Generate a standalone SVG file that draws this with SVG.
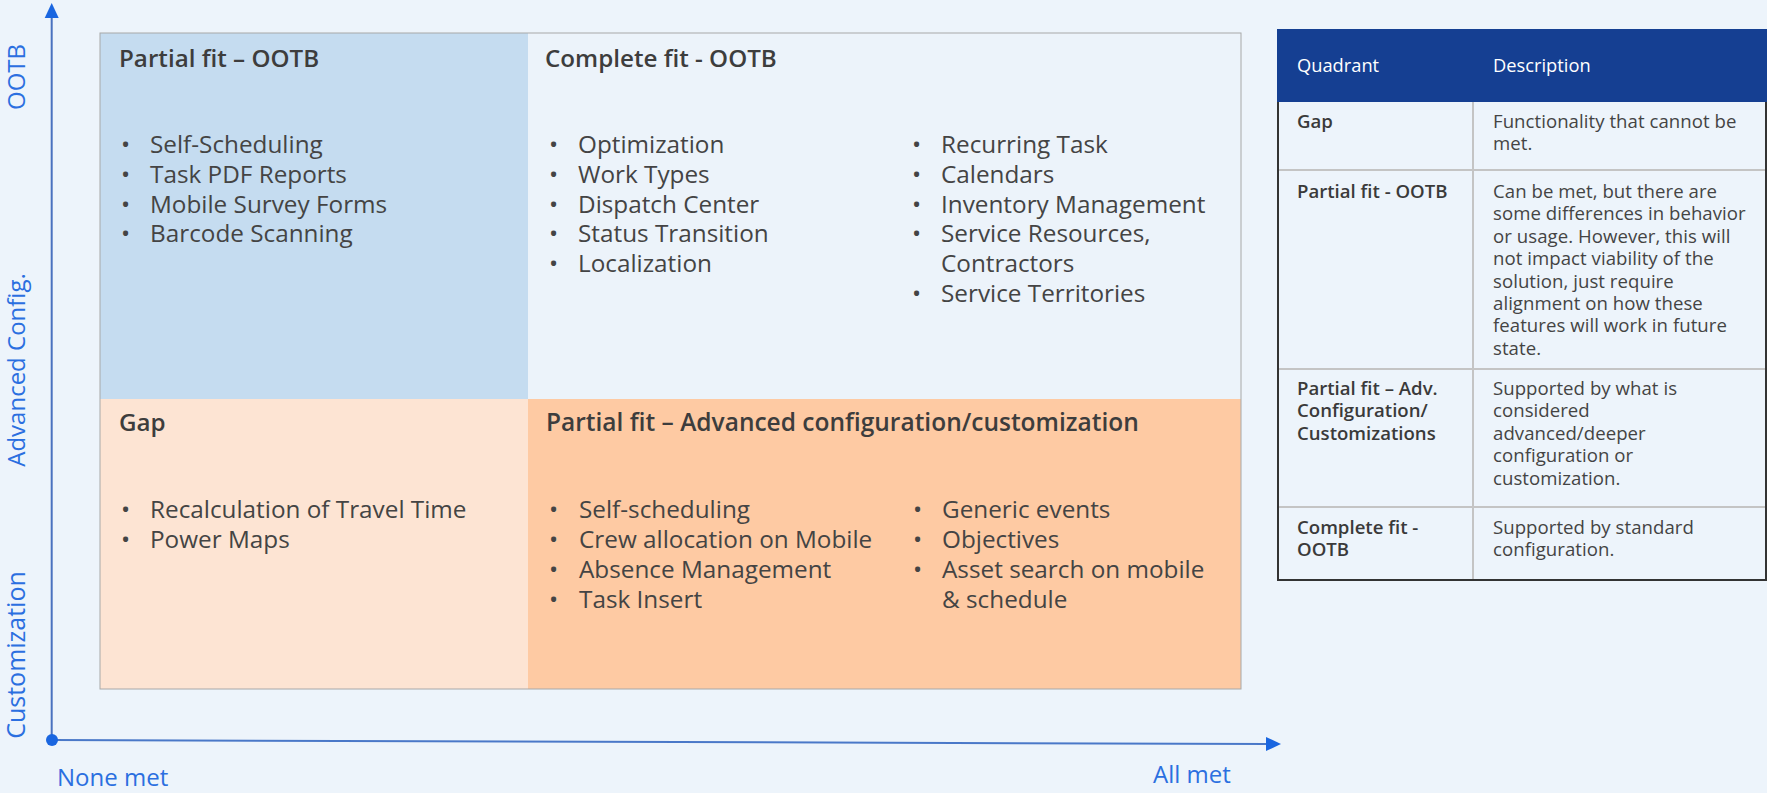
<svg xmlns="http://www.w3.org/2000/svg" width="1767" height="793" viewBox="0 0 1767 793">
<defs>
<style>
.axl{font-family:"Open Sans","Liberation Sans",sans-serif;font-size:24px;fill:#2b6fe0}
.ttl{font-family:"Open Sans","Liberation Sans",sans-serif;font-size:24.2px;font-weight:600;fill:#3d3d3d}
.itm{font-family:"Open Sans","Liberation Sans",sans-serif;font-size:24.3px;fill:#444444}
.th{font-family:"Open Sans","Liberation Sans",sans-serif;font-size:18.3px;fill:#ffffff}
.tb{font-family:"Open Sans","Liberation Sans",sans-serif;font-size:18.6px;font-weight:600;fill:#3a3a3a}
.td{font-family:"Open Sans","Liberation Sans",sans-serif;font-size:18.6px;letter-spacing:0.05px;fill:#444444}
.grid{stroke:#c4c4c4;stroke-width:2;fill:none}
</style>
</defs>
<rect x="0" y="0" width="1767" height="793" fill="#edf4fb"/>

<g id="quadrants">
<g id="q-partial-ootb">
<rect x="100" y="33" width="428" height="366" fill="#c5dcf0"/>
<text class="ttl" x="119" y="67">Partial fit – OOTB</text>
<text class="itm"><tspan x="121" y="153">•</tspan><tspan x="121" y="182.8">•</tspan><tspan x="121" y="212.6">•</tspan><tspan x="121" y="242.4">•</tspan></text>
<text class="itm"><tspan x="150" y="153">Self-Scheduling</tspan><tspan x="150" y="182.8">Task PDF Reports</tspan><tspan x="150" y="212.6">Mobile Survey Forms</tspan><tspan x="150" y="242.4">Barcode Scanning</tspan></text>
</g>
<g id="q-complete-ootb">
<rect x="528" y="33" width="713" height="366" fill="#ecf3fa"/>
<text class="ttl" x="545" y="67">Complete fit - OOTB</text>
<text class="itm"><tspan x="549" y="153">•</tspan><tspan x="549" y="182.8">•</tspan><tspan x="549" y="212.6">•</tspan><tspan x="549" y="242.4">•</tspan><tspan x="549" y="272.2">•</tspan></text>
<text class="itm"><tspan x="578" y="153">Optimization</tspan><tspan x="578" y="182.8">Work Types</tspan><tspan x="578" y="212.6">Dispatch Center</tspan><tspan x="578" y="242.4">Status Transition</tspan><tspan x="578" y="272.2">Localization</tspan></text>
<text class="itm"><tspan x="912" y="153">•</tspan><tspan x="912" y="182.8">•</tspan><tspan x="912" y="212.6">•</tspan><tspan x="912" y="242.4">•</tspan><tspan x="912" y="302">•</tspan></text>
<text class="itm"><tspan x="941" y="153">Recurring Task</tspan><tspan x="941" y="182.8">Calendars</tspan><tspan x="941" y="212.6">Inventory Management</tspan><tspan x="941" y="242.4">Service Resources,</tspan><tspan x="941" y="272.2">Contractors</tspan><tspan x="941" y="302">Service Territories</tspan></text>
</g>
<g id="q-gap">
<rect x="100" y="399" width="428" height="290" fill="#fde4d3"/>
<text class="ttl" x="119" y="431">Gap</text>
<text class="itm"><tspan x="121" y="518">•</tspan><tspan x="121" y="548">•</tspan></text>
<text class="itm"><tspan x="150" y="518">Recalculation of Travel Time</tspan><tspan x="150" y="548">Power Maps</tspan></text>
</g>
<g id="q-partial-adv">
<rect x="528" y="399" width="713" height="290" fill="#fecaa3"/>
<text class="ttl" x="546" y="431" style="font-size:24.5px">Partial fit – Advanced configuration/customization</text>
<text class="itm"><tspan x="549" y="518">•</tspan><tspan x="549" y="548">•</tspan><tspan x="549" y="578">•</tspan><tspan x="549" y="608">•</tspan></text>
<text class="itm"><tspan x="579" y="518">Self-scheduling</tspan><tspan x="579" y="548">Crew allocation on Mobile</tspan><tspan x="579" y="578">Absence Management</tspan><tspan x="579" y="608">Task Insert</tspan></text>
<text class="itm"><tspan x="913" y="518">•</tspan><tspan x="913" y="548">•</tspan><tspan x="913" y="578">•</tspan></text>
<text class="itm"><tspan x="942" y="518">Generic events</tspan><tspan x="942" y="548">Objectives</tspan><tspan x="942" y="578">Asset search on mobile</tspan><tspan x="942" y="608">&amp; schedule</tspan></text>
</g>
<rect x="100" y="33" width="1141" height="656" fill="none" stroke="#a8a8a8" stroke-width="1"/>
</g>

<g id="connectors">
<line x1="51.7" y1="740" x2="51.7" y2="16" stroke="#4a72bf" stroke-width="2"/>
<polygon points="51.7,3 44.7,18 58.7,18" fill="#1a66e0"/>
<line x1="52" y1="740" x2="1268" y2="744" stroke="#4a78c8" stroke-width="2"/>
<polygon points="1281,744 1266,737 1266,751" fill="#1a66e0"/>
<circle cx="52" cy="740" r="6" fill="#1a66e0"/>
</g>

<g id="axis-labels">
<text class="axl" transform="translate(25,77) rotate(-90)" text-anchor="middle">OOTB</text>
<text class="axl" transform="translate(25,370) rotate(-90)" text-anchor="middle">Advanced Config.</text>
<text class="axl" transform="translate(25,655) rotate(-90)" text-anchor="middle" style="font-size:25px">Customization</text>
<text class="axl" x="57" y="786">None met</text>
<text class="axl" x="1153" y="783">All met</text>
</g>

<g id="legend-table">
<rect x="1277" y="29" width="490" height="73" fill="#153f92"/>
<text class="th" x="1297" y="72">Quadrant</text>
<text class="th" x="1493" y="72">Description</text>
<line class="grid" x1="1473" y1="102" x2="1473" y2="581"/>
<line class="grid" x1="1277" y1="170" x2="1767" y2="170"/>
<line class="grid" x1="1277" y1="369" x2="1767" y2="369"/>
<line class="grid" x1="1277" y1="507" x2="1767" y2="507"/>
<polyline points="1278,102 1278,580 1766,580 1766,102" fill="none" stroke="#333333" stroke-width="2"/>
<text class="tb" x="1297" y="128">Gap</text>
<text class="td"><tspan x="1493" y="128">Functionality that cannot be</tspan><tspan x="1493" y="150.4">met.</tspan></text>
<text class="tb" x="1297" y="198">Partial fit - OOTB</text>
<text class="td"><tspan x="1493" y="198">Can be met, but there are</tspan><tspan x="1493" y="220.4">some differences in behavior</tspan><tspan x="1493" y="242.8">or usage. However, this will</tspan><tspan x="1493" y="265.2">not impact viability of the</tspan><tspan x="1493" y="287.6">solution, just require</tspan><tspan x="1493" y="310">alignment on how these</tspan><tspan x="1493" y="332.4">features will work in future</tspan><tspan x="1493" y="354.8">state.</tspan></text>
<text class="tb"><tspan x="1297" y="395">Partial fit – Adv.</tspan><tspan x="1297" y="417.4">Configuration/</tspan><tspan x="1297" y="439.8">Customizations</tspan></text>
<text class="td"><tspan x="1493" y="395">Supported by what is</tspan><tspan x="1493" y="417.4">considered</tspan><tspan x="1493" y="439.8">advanced/deeper</tspan><tspan x="1493" y="462.2">configuration or</tspan><tspan x="1493" y="484.6">customization.</tspan></text>
<text class="tb"><tspan x="1297" y="534">Complete fit -</tspan><tspan x="1297" y="556.4">OOTB</tspan></text>
<text class="td"><tspan x="1493" y="534">Supported by standard</tspan><tspan x="1493" y="556.4">configuration.</tspan></text>
</g>
</svg>
